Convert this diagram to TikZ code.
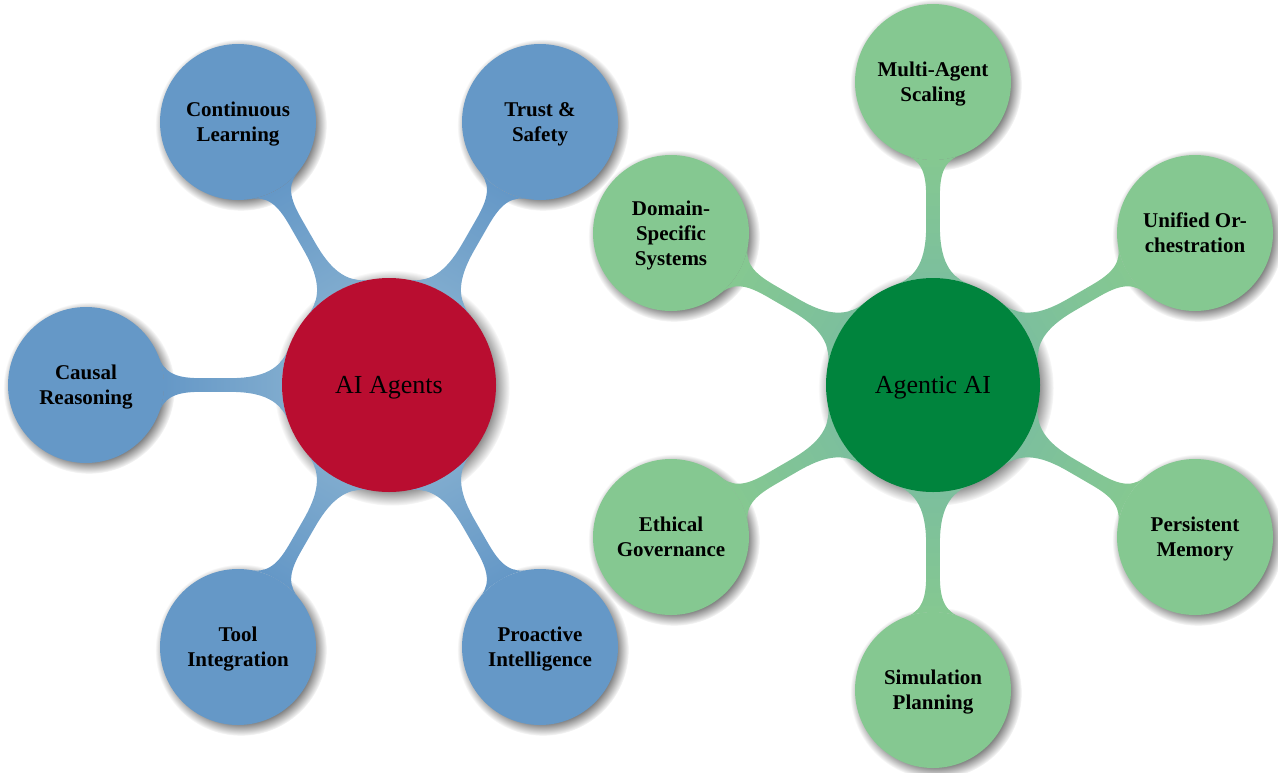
\documentclass[tikz,border=0pt]{standalone}
\usepackage{fontspec}
\setmainfont{Liberation Serif}
\usetikzlibrary{mindmap,shadows}
\definecolor{cblue}{RGB}{101,152,199}
\definecolor{cbluelt}{RGB}{127,171,206}
\definecolor{cred}{RGB}{185,13,48}
\definecolor{cgreen}{RGB}{133,200,145}
\definecolor{cgreenlt}{RGB}{124,191,157}
\definecolor{cgreendk}{RGB}{0,132,61}
\pgfdeclarelayer{shadowlayer}
\pgfdeclarelayer{connlayer}
\pgfsetlayers{shadowlayer,connlayer,main}
\tikzset{
  rootnode/.style={circle, minimum size=107pt, inner sep=0pt, outer sep=0pt, text depth=0pt, font=\fontsize{13}{15}\selectfont, text=black},
  leafnode/.style={circle, minimum size=78pt, inner sep=0pt, outer sep=0pt, text depth=0pt, align=center, font=\fontsize{10.5}{12.5}\selectfont\bfseries, text=black},
  blueleaf/.style={leafnode, fill=cblue},
  greenleaf/.style={leafnode, fill=cgreen},
  bluebar/.style={circle connection bar switch color=from (cbluelt) to (cblue), line width=7pt},
  greenbar/.style={circle connection bar switch color=from (cgreenlt) to (cgreen), line width=7pt},
  rootshadow/.style={circular drop shadow},
}
\begin{document}
\begin{tikzpicture}[x=0.5pt,y=-0.5pt]
\useasboundingbox (0,0) rectangle (1278,772);
% AI Agents map
\node[rootnode, fill=cred] (ai) at (389,385) {AI Agents};
\node[blueleaf] (cl) at (238,122) {Continuous\\Learning};
\node[blueleaf] (ts) at (540,122) {Trust \&\\Safety};
\node[blueleaf] (cr) at (86,385) {Causal\\Reasoning};
\node[blueleaf] (ti) at (238,647) {Tool\\Integration};
\node[blueleaf] (pi) at (540,647) {Proactive\\Intelligence};
% Agentic AI map
\node[rootnode, fill=cgreendk] (ag) at (933,385) {Agentic AI};
\node[greenleaf] (ma) at (933,82) {Multi-Agent\\Scaling};
\node[greenleaf] (uo) at (1195,233) {Unified Or-\\chestration};
\node[greenleaf] (pm) at (1195,537) {Persistent\\Memory};
\node[greenleaf] (sp) at (933,690) {Simulation\\Planning};
\node[greenleaf] (eg) at (671,537) {Ethical\\Governance};
\node[greenleaf] (ds) at (671,233) {Domain-\\Specific\\Systems};
\begin{pgfonlayer}{connlayer}
  \path (ai) to[bluebar] (cl);
  \path (ai) to[bluebar] (ts);
  \path (ai) to[bluebar] (cr);
  \path (ai) to[bluebar] (ti);
  \path (ai) to[bluebar] (pi);
  \path (ag) to[greenbar] (ma);
  \path (ag) to[greenbar] (uo);
  \path (ag) to[greenbar] (pm);
  \path (ag) to[greenbar] (sp);
  \path (ag) to[greenbar] (eg);
  \path (ag) to[greenbar] (ds);
\end{pgfonlayer}
\begin{pgfonlayer}{shadowlayer}
  \foreach \n in {ai,ag}{\path[rootshadow] (\n.center) circle[radius=53.5pt];}
  \foreach \n in {cl,ts,cr,ti,pi,ma,uo,pm,sp,eg,ds}{\path[rootshadow] (\n.center) circle[radius=39pt];}
\end{pgfonlayer}
\end{tikzpicture}
\end{document}
